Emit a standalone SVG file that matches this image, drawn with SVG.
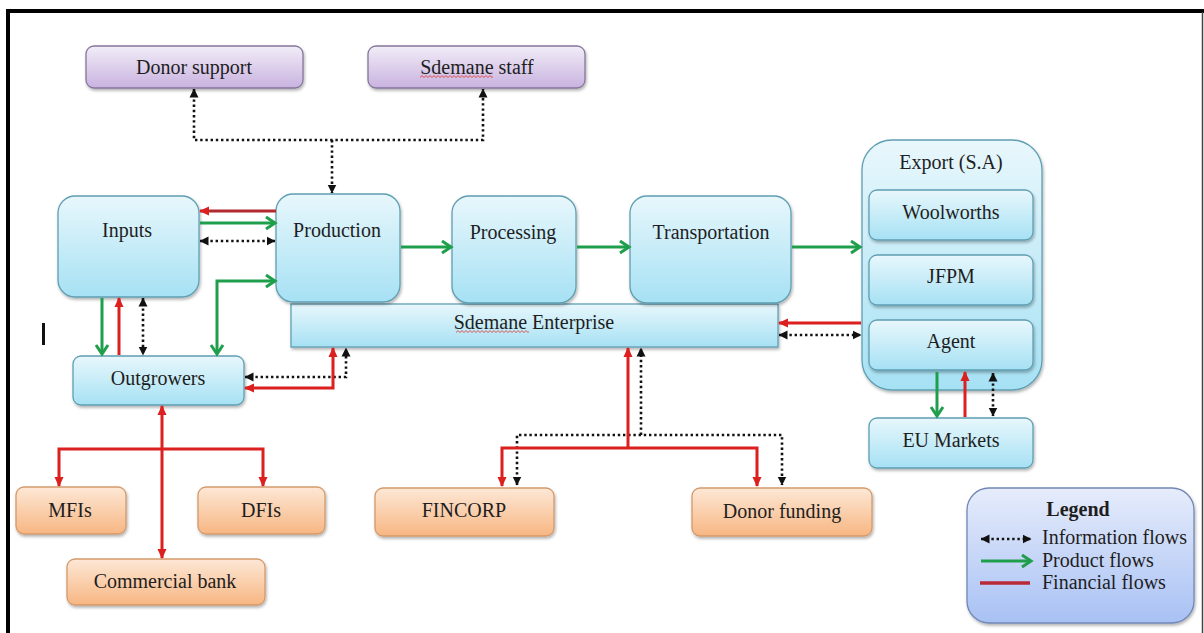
<svg xmlns="http://www.w3.org/2000/svg" width="1204" height="633" viewBox="0 0 1204 633" font-family="Liberation Serif, DejaVu Serif, serif">
  <style>
    text { font-family: 'Liberation Serif', 'DejaVu Serif', serif; font-size: 20px; fill: #1e1e1e; text-anchor: middle; }
    .left { text-anchor: start; }
    .bold { font-weight: bold; }
    .blue { fill: url(#gBlue); stroke: #5f9fb2; stroke-width: 1.3; filter: url(#shadow); }
    .purple { fill: url(#gPurple); stroke: #85779a; stroke-width: 1.3; filter: url(#shadow); }
    .orange { fill: url(#gOrange); stroke: #d39a6c; stroke-width: 1.3; filter: url(#shadow); }
    .legendbox { fill: url(#gLegend); stroke: #7288b4; stroke-width: 1.3; filter: url(#shadow); }
    .info { fill: none; stroke: #111; stroke-width: 2.6; stroke-dasharray: 2.4 2.8; }
    .prod { fill: none; stroke: #1f9e4b; stroke-width: 3; }
    .fin { fill: none; stroke: #dc1f1f; stroke-width: 3; }
    .fin-dark { fill: none; stroke: #b02a2e; stroke-width: 3.2; }
    .info-end { marker-end: url(#kHead); }
    .info-both { marker-start: url(#kHead); marker-end: url(#kHead); }
    .prod-end { marker-end: url(#gHead); }
    .prod-both { marker-start: url(#gHead); marker-end: url(#gHead); }
    .fin-end { marker-end: url(#rHead); }
    .fin-both { marker-start: url(#rHead); marker-end: url(#rHead); }
  </style>
  <defs>
    <linearGradient id="gBlue" x1="0" y1="0" x2="0" y2="1">
      <stop offset="0" stop-color="#e8f7fc"/>
      <stop offset="1" stop-color="#a6e1f4"/>
    </linearGradient>
    <linearGradient id="gPurple" x1="0" y1="0" x2="0" y2="1">
      <stop offset="0" stop-color="#f2edf8"/>
      <stop offset="1" stop-color="#c8b2df"/>
    </linearGradient>
    <linearGradient id="gOrange" x1="0" y1="0" x2="0" y2="1">
      <stop offset="0" stop-color="#fde8d6"/>
      <stop offset="1" stop-color="#f7b682"/>
    </linearGradient>
    <linearGradient id="gLegend" x1="0" y1="0" x2="0" y2="1">
      <stop offset="0" stop-color="#e6ecfb"/>
      <stop offset="1" stop-color="#a8c1f4"/>
    </linearGradient>
    <filter id="shadow" x="-10%" y="-10%" width="120%" height="130%">
      <feDropShadow dx="1" dy="2" stdDeviation="1.4" flood-color="#000" flood-opacity="0.3"/>
    </filter>
    <!-- open chevron head for product flows -->
    <marker id="gHead" viewBox="0 0 11 14" refX="10" refY="7" markerWidth="11" markerHeight="14" markerUnits="userSpaceOnUse" orient="auto-start-reverse" overflow="visible">
      <path d="M1,1 L10,7 L1,13" fill="none" stroke="#1f9e4b" stroke-width="3"/>
    </marker>
    <!-- filled head for financial flows -->
    <marker id="rHead" viewBox="0 0 10 10" refX="9" refY="5" markerWidth="10" markerHeight="10" markerUnits="userSpaceOnUse" orient="auto-start-reverse">
      <path d="M0,0.5 L10,5 L0,9.5 Z" fill="#dc1f1f"/>
    </marker>
    <!-- filled head for information flows -->
    <marker id="kHead" viewBox="0 0 9 10" refX="8.5" refY="5" markerWidth="9" markerHeight="10" markerUnits="userSpaceOnUse" orient="auto-start-reverse">
      <path d="M0,0.5 L9,5 L0,9.5 Z" fill="#111"/>
    </marker>
    <!-- spell-check squiggle -->
    <pattern id="squiggle" width="4" height="3" patternUnits="userSpaceOnUse">
      <path d="M0,2.5 L2,0.6 L4,2.5" fill="none" stroke="#e0302a" stroke-width="0.8"/>
    </pattern>
  </defs>

  <!-- page frame -->
  <rect x="0" y="0" width="1204" height="633" fill="#fff"/>
  <line x1="8" y1="11" x2="1204" y2="11" stroke="#000" stroke-width="4"/>
  <line x1="8" y1="9" x2="8" y2="633" stroke="#000" stroke-width="4"/>
  <line x1="1202.5" y1="12" x2="1202.5" y2="633" stroke="#444" stroke-width="1.5"/>
  <!-- text cursor -->
  <rect id="cursor" x="42" y="323" width="3" height="22" fill="#111"/>

  <!-- nodes -->
  <g id="donor-support">
    <rect class="purple" x="86" y="46" width="217" height="42" rx="8"/>
    <text x="194" y="74">Donor support</text>
  </g>
  <g id="sdemane-staff">
    <rect class="purple" x="368" y="46" width="217" height="42" rx="8"/>
    <text x="477" y="74">Sdemane staff</text>
    <rect x="420" y="75" width="73" height="3" fill="url(#squiggle)"/>
  </g>
  <g id="sdemane-enterprise">
    <rect class="blue" x="291" y="304" width="487" height="43"/>
    <text x="534" y="329">Sdemane Enterprise</text>
    <rect x="456" y="330" width="73" height="3" fill="url(#squiggle)"/>
  </g>
  <g id="inputs">
    <rect class="blue" x="58" y="196" width="141" height="101" rx="17"/>
    <text x="127" y="237">Inputs</text>
  </g>
  <g id="production">
    <rect class="blue" x="276" y="194" width="124" height="108" rx="17"/>
    <text x="337" y="237">Production</text>
  </g>
  <g id="processing">
    <rect class="blue" x="452" y="196" width="124" height="107" rx="17"/>
    <text x="513" y="239">Processing</text>
  </g>
  <g id="transportation">
    <rect class="blue" x="630" y="196" width="161" height="107" rx="17"/>
    <text x="711" y="239">Transportation</text>
  </g>
  <g id="export">
    <rect class="blue" x="862" y="140" width="180" height="250" rx="30"/>
    <text x="951" y="169">Export (S.A)</text>
  </g>
  <g id="woolworths">
    <rect class="blue" x="869" y="190" width="164" height="50" rx="8"/>
    <text x="951" y="219">Woolworths</text>
  </g>
  <g id="jfpm">
    <rect class="blue" x="869" y="255" width="164" height="50" rx="8"/>
    <text x="951" y="283">JFPM</text>
  </g>
  <g id="agent">
    <rect class="blue" x="869" y="320" width="164" height="50" rx="8"/>
    <text x="951" y="348">Agent</text>
  </g>
  <g id="eu-markets">
    <rect class="blue" x="869" y="418" width="164" height="50" rx="8"/>
    <text x="951" y="447">EU Markets</text>
  </g>
  <g id="outgrowers">
    <rect class="blue" x="73" y="356" width="171" height="49" rx="8"/>
    <text x="158" y="385">Outgrowers</text>
  </g>
  <g id="mfis">
    <rect class="orange" x="16" y="487" width="110" height="47" rx="8"/>
    <text x="70" y="517">MFIs</text>
  </g>
  <g id="dfis">
    <rect class="orange" x="198" y="487" width="127" height="47" rx="8"/>
    <text x="261" y="517">DFIs</text>
  </g>
  <g id="commercial-bank">
    <rect class="orange" x="67" y="559" width="198" height="46" rx="8"/>
    <text x="165" y="588">Commercial bank</text>
  </g>
  <g id="fincorp">
    <rect class="orange" x="375" y="488" width="179" height="48" rx="8"/>
    <text x="464" y="517">FINCORP</text>
  </g>
  <g id="donor-funding">
    <rect class="orange" x="692" y="488" width="180" height="48" rx="8"/>
    <text x="782" y="518">Donor funding</text>
  </g>

  <!-- connectors -->
  <g id="connectors">
    <!-- information flows -->
    <path class="info info-both" d="M194,89 V140 H483 V89"/>
    <path class="info info-end" d="M332,140 V193"/>
    <path class="info info-both" d="M200,241 H275"/>
    <path class="info info-both" d="M143,298 V355"/>
    <path class="info info-both" d="M245,377 H346 V348"/>
    <path class="info info-both" d="M779,335 H861"/>
    <path class="info info-both" d="M993,373 V416"/>
    <path class="info info-end" d="M641,435 V348"/>
    <path class="info info-both" d="M517,485 V435 H782 V485"/>

    <!-- product flows -->
    <path class="prod prod-end" d="M200,223 H275"/>
    <path class="prod prod-end" d="M401,247 H451"/>
    <path class="prod prod-end" d="M577,247 H629"/>
    <path class="prod prod-end" d="M792,247 H860"/>
    <path class="prod prod-end" d="M102,298 V354"/>
    <path class="prod prod-both" d="M217,354 V281 H275"/>
    <path class="prod prod-end" d="M937,372 V416"/>

    <!-- financial flows -->
    <path class="fin-dark fin-end" d="M276,211 H200"/>
    <path class="fin fin-end" d="M119,355 V298"/>
    <path class="fin fin-both" d="M245,388 H333 V348"/>
    <path class="fin fin-end" d="M861,323 H779"/>
    <path class="fin fin-end" d="M965,417 V372"/>
    <path class="fin fin-both" d="M162,406 V558"/>
    <path class="fin fin-both" d="M59,486 V449 H263 V486"/>
    <path class="fin fin-end" d="M628,448 V348"/>
    <path class="fin fin-both" d="M502,486 V448 H757 V486"/>
  </g>

  <!-- legend -->
  <g id="legend">
    <rect class="legendbox" x="967" y="488" width="227" height="135" rx="22"/>
    <text class="bold" x="1078" y="516">Legend</text>
    <path class="info info-both" d="M981,539 H1031"/>
    <text class="left" x="1042" y="544">Information flows</text>
    <path class="prod prod-end" d="M981,561 H1031"/>
    <text class="left" x="1042" y="567">Product flows</text>
    <line x1="980" y1="583" x2="1030" y2="583" stroke="#b82a35" stroke-width="3.5"/>
    <text class="left" x="1042" y="589">Financial flows</text>
  </g>
</svg>
